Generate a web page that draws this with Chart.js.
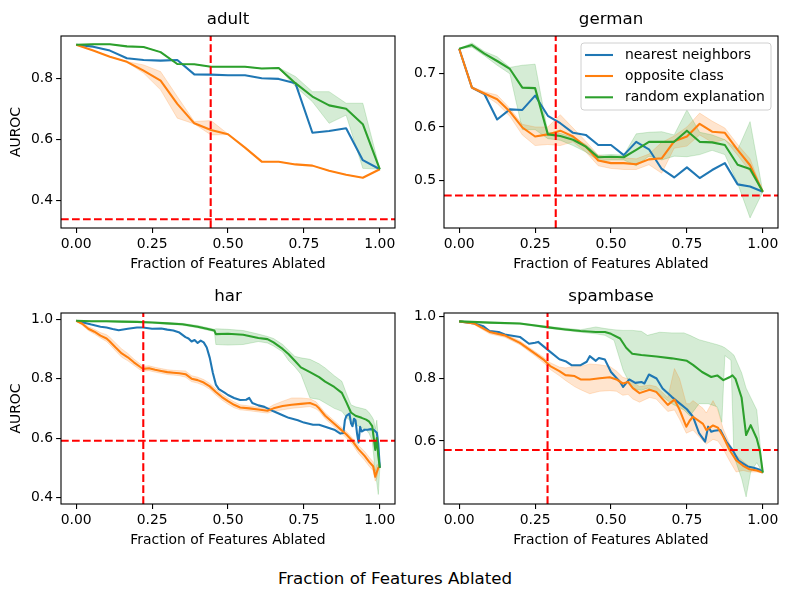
<!DOCTYPE html>
<html><head><meta charset="utf-8">
<script src="https://cdn.jsdelivr.net/npm/chart.js@4.4.1/dist/chart.umd.min.js"></script>
<style>
html,body{margin:0;padding:0;background:#fff;}
body{width:787px;height:599px;position:relative;overflow:hidden;}
canvas{position:absolute;display:block;}
#sup{position:absolute;left:0;width:790px;top:569px;text-align:center;font-family:'DejaVu Sans';font-size:16.67px;line-height:20px;color:#000;white-space:nowrap;}
</style></head>
<body>
<canvas id="c0" width="400" height="290" style="left:0px;top:0px"></canvas>
<canvas id="c1" width="400" height="290" style="left:383px;top:0px"></canvas>
<canvas id="c2" width="400" height="289" style="left:0px;top:277px"></canvas>
<canvas id="c3" width="400" height="289" style="left:383px;top:277px"></canvas>
<div id="sup">Fraction of Features Ablated</div>
<script>
// ---------- data ----------
const methods = ['nearest neighbors', 'opposite class', 'random explanation'];
const datasetNames = ['adult', 'german', 'har', 'spambase'];
const xTicks = [0, 0.25, 0.5, 0.75, 1.0];
const xLimits = [-0.05, 1.05];
const yLimits = [[0.309, 0.94], [0.41, 0.771], [0.378, 1.021], [0.397, 1.012]];
const yTickSets = [[0.4, 0.6, 0.8], [0.5, 0.6, 0.7], [0.4, 0.6, 0.8, 1.0], [0.6, 0.8, 1.0]];
const thresholdX = [0.443, 0.318, 0.221, 0.291];
const thresholdY = [0.338, 0.471, 0.591, 0.571];

// adult
const adultX = [0, 0.056, 0.111, 0.167, 0.222, 0.278, 0.333, 0.389, 0.444, 0.5, 0.556, 0.611, 0.667, 0.722, 0.778, 0.833, 0.889, 0.944, 1];
const adultNN = [0.911, 0.905, 0.892, 0.867, 0.861, 0.859, 0.861, 0.814, 0.813, 0.811, 0.811, 0.801, 0.799, 0.785, 0.622, 0.628, 0.637, 0.532, 0.502];
const adultOC = [0.911, 0.892, 0.872, 0.855, 0.826, 0.793, 0.717, 0.653, 0.631, 0.617, 0.573, 0.527, 0.527, 0.518, 0.514, 0.497, 0.484, 0.474, 0.502];
const adultOChi = [0.911, 0.892, 0.872, 0.856, 0.845, 0.823, 0.741, 0.659, 0.662, 0.618, 0.573, 0.527, 0.527, 0.518, 0.514, 0.497, 0.484, 0.474, 0.502];
const adultOClo = [0.911, 0.892, 0.872, 0.854, 0.818, 0.763, 0.670, 0.651, 0.615, 0.616, 0.573, 0.527, 0.527, 0.518, 0.514, 0.497, 0.484, 0.474, 0.502];
const adultRE = [0.911, 0.913, 0.913, 0.906, 0.904, 0.887, 0.848, 0.847, 0.839, 0.839, 0.839, 0.833, 0.835, 0.785, 0.741, 0.712, 0.701, 0.650, 0.502];
const adultREhi = [0.911, 0.913, 0.913, 0.906, 0.904, 0.887, 0.848, 0.847, 0.840, 0.840, 0.840, 0.834, 0.836, 0.807, 0.757, 0.757, 0.719, 0.719, 0.502];
const adultRElo = [0.911, 0.913, 0.913, 0.906, 0.904, 0.887, 0.847, 0.846, 0.838, 0.838, 0.838, 0.832, 0.834, 0.774, 0.724, 0.653, 0.680, 0.505, 0.502];

// german
const germanX = [0, 0.042, 0.083, 0.125, 0.167, 0.208, 0.25, 0.292, 0.333, 0.375, 0.417, 0.458, 0.5, 0.542, 0.583, 0.625, 0.667, 0.708, 0.75, 0.792, 0.833, 0.875, 0.917, 0.958, 1];
const germanNN = [0.747, 0.674, 0.662, 0.614, 0.633, 0.632, 0.659, 0.621, 0.607, 0.589, 0.585, 0.566, 0.566, 0.547, 0.572, 0.558, 0.521, 0.505, 0.524, 0.504, 0.519, 0.532, 0.492, 0.488, 0.478];
const germanOC = [0.747, 0.674, 0.663, 0.652, 0.629, 0.599, 0.582, 0.586, 0.593, 0.582, 0.563, 0.537, 0.532, 0.532, 0.530, 0.539, 0.541, 0.573, 0.582, 0.606, 0.591, 0.589, 0.557, 0.528, 0.478];
const germanOChi = [0.747, 0.676, 0.666, 0.66, 0.635, 0.605, 0.6, 0.6, 0.623, 0.598, 0.573, 0.547, 0.542, 0.542, 0.54, 0.549, 0.571, 0.583, 0.6, 0.626, 0.611, 0.598, 0.567, 0.54, 0.478];
const germanOClo = [0.747, 0.672, 0.66, 0.644, 0.62, 0.585, 0.565, 0.567, 0.565, 0.572, 0.553, 0.527, 0.522, 0.52, 0.52, 0.529, 0.513, 0.56, 0.564, 0.585, 0.571, 0.576, 0.547, 0.516, 0.478];
const germanRE = [0.747, 0.754, 0.738, 0.724, 0.709, 0.674, 0.673, 0.586, 0.583, 0.576, 0.563, 0.543, 0.544, 0.543, 0.557, 0.572, 0.572, 0.572, 0.593, 0.572, 0.571, 0.566, 0.529, 0.521, 0.478];
const germanREhi = [0.747, 0.758, 0.742, 0.732, 0.712, 0.716, 0.718, 0.59, 0.588, 0.58, 0.567, 0.547, 0.548, 0.547, 0.587, 0.59, 0.591, 0.585, 0.632, 0.59, 0.585, 0.576, 0.557, 0.61, 0.478];
const germanRElo = [0.747, 0.75, 0.734, 0.716, 0.700, 0.595, 0.595, 0.578, 0.575, 0.565, 0.553, 0.537, 0.538, 0.538, 0.527, 0.545, 0.538, 0.545, 0.544, 0.548, 0.556, 0.548, 0.494, 0.429, 0.478];

// har
const harNNx = [0, 0.02, 0.05, 0.08, 0.1, 0.12, 0.14, 0.17, 0.2, 0.22, 0.25, 0.28, 0.3, 0.32, 0.34, 0.36, 0.37, 0.38, 0.39, 0.4, 0.41, 0.42, 0.43, 0.44, 0.45, 0.46, 0.47, 0.49, 0.5, 0.52, 0.54, 0.56, 0.57, 0.58, 0.6, 0.62, 0.65, 0.68, 0.7, 0.73, 0.75, 0.78, 0.8, 0.83, 0.85, 0.87, 0.88, 0.885, 0.89, 0.9, 0.905, 0.91, 0.915, 0.92, 0.925, 0.93, 0.935, 0.94, 0.95, 0.96, 0.97, 0.98, 0.99, 0.995, 1];
const harNN = [0.995, 0.99, 0.982, 0.975, 0.972, 0.967, 0.963, 0.968, 0.972, 0.972, 0.968, 0.969, 0.965, 0.962, 0.955, 0.94, 0.935, 0.925, 0.93, 0.92, 0.928, 0.922, 0.905, 0.87, 0.82, 0.78, 0.765, 0.752, 0.745, 0.735, 0.728, 0.729, 0.735, 0.718, 0.71, 0.705, 0.69, 0.677, 0.668, 0.66, 0.652, 0.645, 0.645, 0.635, 0.628, 0.615, 0.617, 0.66, 0.675, 0.682, 0.65, 0.64, 0.665, 0.66, 0.615, 0.585, 0.638, 0.622, 0.628, 0.628, 0.63, 0.628, 0.618, 0.58, 0.5];
const harOCx = [0, 0.02, 0.04, 0.06, 0.08, 0.1, 0.11, 0.13, 0.15, 0.17, 0.19, 0.21, 0.22, 0.24, 0.26, 0.28, 0.3, 0.32, 0.34, 0.36, 0.38, 0.4, 0.42, 0.44, 0.46, 0.48, 0.5, 0.52, 0.54, 0.57, 0.6, 0.63, 0.65, 0.68, 0.71, 0.74, 0.77, 0.79, 0.8, 0.82, 0.85, 0.87, 0.89, 0.91, 0.93, 0.95, 0.965, 0.978, 0.985, 0.99, 0.995, 1];
const harOC = [0.995, 0.985, 0.968, 0.958, 0.945, 0.935, 0.926, 0.905, 0.885, 0.872, 0.855, 0.84, 0.833, 0.835, 0.83, 0.826, 0.822, 0.82, 0.818, 0.815, 0.8, 0.795, 0.787, 0.774, 0.755, 0.738, 0.724, 0.712, 0.703, 0.7, 0.696, 0.692, 0.7, 0.708, 0.712, 0.715, 0.718, 0.71, 0.7, 0.675, 0.648, 0.63, 0.612, 0.59, 0.562, 0.54, 0.52, 0.505, 0.47, 0.485, 0.5, 0.504];
const harOChi = [0.995, 0.99, 0.975, 0.966, 0.955, 0.948, 0.94, 0.92, 0.9, 0.885, 0.866, 0.85, 0.842, 0.843, 0.838, 0.834, 0.83, 0.828, 0.827, 0.826, 0.81, 0.805, 0.797, 0.784, 0.766, 0.748, 0.734, 0.722, 0.712, 0.708, 0.704, 0.7, 0.712, 0.724, 0.735, 0.735, 0.732, 0.722, 0.71, 0.685, 0.658, 0.64, 0.622, 0.6, 0.575, 0.555, 0.535, 0.52, 0.49, 0.51, 0.51, 0.504];
const harOClo = [0.995, 0.98, 0.962, 0.95, 0.937, 0.925, 0.915, 0.893, 0.872, 0.86, 0.845, 0.83, 0.825, 0.827, 0.822, 0.818, 0.814, 0.812, 0.81, 0.805, 0.79, 0.785, 0.777, 0.764, 0.745, 0.728, 0.714, 0.702, 0.695, 0.692, 0.688, 0.684, 0.69, 0.695, 0.7, 0.703, 0.706, 0.698, 0.69, 0.665, 0.638, 0.62, 0.6, 0.578, 0.548, 0.525, 0.505, 0.49, 0.455, 0.465, 0.49, 0.504];
const harREx = [0, 0.05, 0.1, 0.15, 0.2, 0.25, 0.3, 0.35, 0.4, 0.43, 0.455, 0.46, 0.5, 0.55, 0.6, 0.63, 0.65, 0.68, 0.7, 0.72, 0.74, 0.77, 0.8, 0.82, 0.85, 0.875, 0.89, 0.905, 0.92, 0.94, 0.955, 0.965, 0.975, 0.98, 0.985, 0.99, 0.995, 1];
const harRE = [0.995, 0.993, 0.993, 0.992, 0.991, 0.989, 0.986, 0.983, 0.975, 0.968, 0.962, 0.95, 0.951, 0.948, 0.937, 0.933, 0.922, 0.9, 0.882, 0.86, 0.838, 0.822, 0.805, 0.79, 0.772, 0.752, 0.72, 0.686, 0.675, 0.668, 0.662, 0.655, 0.64, 0.6, 0.56, 0.6, 0.54, 0.5];
const harREhi = [0.995, 0.995, 0.995, 0.994, 0.993, 0.991, 0.989, 0.986, 0.979, 0.972, 0.966, 0.968, 0.966, 0.962, 0.95, 0.942, 0.935, 0.915, 0.895, 0.875, 0.87, 0.865, 0.85, 0.836, 0.81, 0.791, 0.75, 0.712, 0.705, 0.7, 0.696, 0.685, 0.67, 0.66, 0.63, 0.66, 0.6, 0.5];
const harRElo = [0.995, 0.991, 0.991, 0.99, 0.989, 0.987, 0.983, 0.98, 0.971, 0.964, 0.958, 0.915, 0.913, 0.915, 0.925, 0.92, 0.91, 0.89, 0.86, 0.84, 0.815, 0.735, 0.73, 0.718, 0.7, 0.69, 0.67, 0.656, 0.645, 0.635, 0.628, 0.615, 0.59, 0.54, 0.48, 0.45, 0.41, 0.5];

// spambase
const spamNNx = [0, 0.05, 0.08, 0.1, 0.13, 0.15, 0.2, 0.23, 0.25, 0.26, 0.28, 0.3, 0.33, 0.35, 0.37, 0.4, 0.42, 0.43, 0.45, 0.46, 0.48, 0.5, 0.53, 0.54, 0.56, 0.58, 0.6, 0.61, 0.625, 0.65, 0.67, 0.7, 0.72, 0.75, 0.77, 0.79, 0.81, 0.82, 0.83, 0.84, 0.86, 0.88, 0.9, 0.92, 0.95, 0.97, 0.99, 1];
const spamNN = [0.985, 0.978, 0.969, 0.954, 0.951, 0.943, 0.935, 0.913, 0.916, 0.919, 0.903, 0.887, 0.863, 0.857, 0.844, 0.844, 0.855, 0.873, 0.858, 0.867, 0.862, 0.822, 0.79, 0.774, 0.798, 0.787, 0.79, 0.785, 0.814, 0.801, 0.769, 0.742, 0.726, 0.702, 0.678, 0.625, 0.598, 0.646, 0.63, 0.633, 0.635, 0.598, 0.571, 0.537, 0.518, 0.514, 0.507, 0.498];
const spamOCx = [0, 0.05, 0.1, 0.15, 0.2, 0.25, 0.28, 0.3, 0.33, 0.35, 0.38, 0.4, 0.43, 0.463, 0.496, 0.518, 0.539, 0.556, 0.572, 0.594, 0.627, 0.649, 0.687, 0.709, 0.726, 0.748, 0.759, 0.77, 0.803, 0.814, 0.836, 0.852, 0.869, 0.891, 0.912, 0.935, 0.956, 0.98, 1];
const spamOC = [0.985, 0.978, 0.951, 0.94, 0.916, 0.881, 0.86, 0.841, 0.825, 0.812, 0.809, 0.798, 0.798, 0.802, 0.805, 0.798, 0.785, 0.79, 0.77, 0.754, 0.765, 0.758, 0.716, 0.733, 0.7, 0.646, 0.665, 0.678, 0.655, 0.635, 0.65, 0.643, 0.615, 0.57, 0.538, 0.52, 0.509, 0.505, 0.498];
const spamOChi = [0.985, 0.982, 0.957, 0.946, 0.922, 0.888, 0.868, 0.852, 0.838, 0.835, 0.84, 0.84, 0.848, 0.845, 0.84, 0.825, 0.805, 0.8, 0.79, 0.775, 0.78, 0.775, 0.74, 0.833, 0.8, 0.72, 0.72, 0.73, 0.705, 0.69, 0.73, 0.7, 0.64, 0.59, 0.555, 0.535, 0.518, 0.51, 0.498];
const spamOClo = [0.985, 0.974, 0.945, 0.934, 0.91, 0.874, 0.85, 0.83, 0.81, 0.795, 0.775, 0.765, 0.752, 0.76, 0.762, 0.76, 0.747, 0.75, 0.735, 0.725, 0.74, 0.735, 0.695, 0.7, 0.67, 0.625, 0.63, 0.635, 0.6, 0.59, 0.605, 0.6, 0.575, 0.535, 0.5, 0.505, 0.5, 0.5, 0.498];
const spamREx = [0, 0.1, 0.2, 0.25, 0.3, 0.35, 0.4, 0.45, 0.48, 0.5, 0.53, 0.55, 0.57, 0.6, 0.65, 0.7, 0.75, 0.77, 0.8, 0.83, 0.85, 0.87, 0.89, 0.9, 0.91, 0.93, 0.945, 0.96, 0.98, 0.99, 1];
const spamRE = [0.985, 0.981, 0.978, 0.972, 0.965, 0.959, 0.954, 0.951, 0.951, 0.945, 0.93, 0.9, 0.881, 0.877, 0.872, 0.866, 0.858, 0.845, 0.822, 0.806, 0.811, 0.796, 0.805, 0.811, 0.8, 0.74, 0.619, 0.651, 0.608, 0.57, 0.498];
const spamREbandX = [0, 0.1, 0.2, 0.3, 0.4, 0.45, 0.48, 0.51, 0.54, 0.57, 0.6, 0.62, 0.66, 0.7, 0.74, 0.76, 0.79, 0.82, 0.85, 0.865, 0.875, 0.895, 0.905, 0.93, 0.945, 0.96, 0.98, 1];
const spamREhi = [0.985, 0.983, 0.98, 0.968, 0.958, 0.967, 0.962, 0.958, 0.956, 0.956, 0.953, 0.94, 0.95, 0.948, 0.948, 0.94, 0.926, 0.918, 0.91, 0.905, 0.9, 0.885, 0.876, 0.82, 0.77, 0.74, 0.7, 0.498];
const spamRElo = [0.985, 0.979, 0.976, 0.962, 0.95, 0.945, 0.94, 0.924, 0.828, 0.769, 0.763, 0.77, 0.75, 0.72, 0.7, 0.68, 0.72, 0.72, 0.71, 0.66, 0.875, 0.86, 0.55, 0.48, 0.42, 0.5, 0.53, 0.498];

// ---------- styling ----------
const FONT = "'DejaVu Sans'";
const lineColors = ['#1f77b4', '#ff7f0e', '#2ca02c'];
const bandColors = ['rgba(31,119,180,0.2)', 'rgba(255,127,14,0.2)', 'rgba(44,160,44,0.2)'];

const panels = [
  {id: 'c0', ylabel: true, legend: false, series: [
    {x: adultX, y: adultNN}, {x: adultX, y: adultOC, lo: adultOClo, hi: adultOChi}, {x: adultX, y: adultRE, lo: adultRElo, hi: adultREhi}]},
  {id: 'c1', ylabel: false, legend: true, series: [
    {x: germanX, y: germanNN}, {x: germanX, y: germanOC, lo: germanOClo, hi: germanOChi}, {x: germanX, y: germanRE, lo: germanRElo, hi: germanREhi}]},
  {id: 'c2', ylabel: true, legend: false, series: [
    {x: harNNx, y: harNN}, {x: harOCx, y: harOC, lo: harOClo, hi: harOChi}, {x: harREx, y: harRE, lo: harRElo, hi: harREhi}]},
  {id: 'c3', ylabel: false, legend: false, series: [
    {x: spamNNx, y: spamNN}, {x: spamOCx, y: spamOC, lo: spamOClo, hi: spamOChi}, {x: spamREx, y: spamRE, bx: spamREbandX, lo: spamRElo, hi: spamREhi}]}
];

const framePlugin = {
  id: 'frame',
  afterDraw(chart, args, opts) {
    const {ctx, chartArea: a} = chart;
    ctx.save();
    ctx.strokeStyle = '#000';
    ctx.lineWidth = 1.1;
    ctx.strokeRect(a.left, a.top, a.right - a.left, a.bottom - a.top);
    ctx.font = '16.67px ' + FONT;
    ctx.fillStyle = '#000';
    ctx.textAlign = 'center';
    ctx.textBaseline = 'alphabetic';
    ctx.fillText(opts.title, (a.left + a.right) / 2, a.top - 12);
    if (opts.legend) {
      const bx = a.right - 197, by = a.top + 7, bw = 190, bh = 67, r = 3;
      ctx.beginPath();
      ctx.moveTo(bx + r, by);
      ctx.arcTo(bx + bw, by, bx + bw, by + bh, r);
      ctx.arcTo(bx + bw, by + bh, bx, by + bh, r);
      ctx.arcTo(bx, by + bh, bx, by, r);
      ctx.arcTo(bx, by, bx + bw, by, r);
      ctx.closePath();
      ctx.fillStyle = 'rgba(255,255,255,0.8)';
      ctx.fill();
      ctx.strokeStyle = '#d0d0d0';
      ctx.lineWidth = 1;
      ctx.stroke();
      const rows = [12, 33, 54.3];
      ctx.font = '13.9px ' + FONT;
      ctx.textAlign = 'left';
      ctx.textBaseline = 'middle';
      methods.forEach((m, k) => {
        const yy = by + rows[k];
        ctx.strokeStyle = lineColors[k];
        ctx.lineWidth = 2.08;
        ctx.beginPath();
        ctx.moveTo(bx + 4, yy);
        ctx.lineTo(bx + 32, yy);
        ctx.stroke();
        ctx.fillStyle = '#000';
        ctx.fillText(m, bx + 44, yy);
      });
    }
    ctx.restore();
  }
};

panels.forEach((p, idx) => {
  const [yMin, yMax] = yLimits[idx];
  const ds = [];
  ds.push({data: [{x: thresholdX[idx], y: yMin}, {x: thresholdX[idx], y: yMax}],
    borderColor: '#ff0000', borderWidth: 2.08, borderDash: [7.7, 3.3], order: 0, fill: false});
  ds.push({data: [{x: xLimits[0], y: thresholdY[idx]}, {x: xLimits[1], y: thresholdY[idx]}],
    borderColor: '#ff0000', borderWidth: 2.08, borderDash: [7.7, 3.3], order: 0, fill: false});
  p.series.forEach((s, k) => {
    ds.push({label: methods[k], data: s.x.map((x, i) => ({x: x, y: s.y[i]})),
      borderColor: lineColors[k], borderWidth: 2.08, order: 3 - k, fill: false});
    if (s.lo) {
      const bxs = s.bx || s.x;
      ds.push({data: bxs.map((x, i) => ({x: x, y: s.lo[i]})),
        borderColor: bandColors[k], borderWidth: 1, order: 6 - k, fill: false});
      ds.push({data: bxs.map((x, i) => ({x: x, y: s.hi[i]})),
        borderColor: bandColors[k], borderWidth: 1, order: 6 - k, fill: '-1', backgroundColor: bandColors[k]});
    }
  });

  const tickFont = {family: FONT, size: 13.9};
  new Chart(document.getElementById(p.id), {
    type: 'line',
    data: {datasets: ds},
    plugins: [framePlugin],
    options: {
      responsive: false, animation: false, devicePixelRatio: 1,
      layout: {padding: {left: 0, top: 36, right: 5, bottom: 0}},
      elements: {point: {radius: 0, hoverRadius: 0}, line: {tension: 0, borderJoinStyle: 'round', borderCapStyle: 'butt'}},
      plugins: {
        legend: {display: false}, tooltip: {enabled: false},
        filler: {drawTime: 'beforeDatasetsDraw'},
        frame: {title: datasetNames[idx], legend: p.legend}
      },
      scales: {
        x: {
          type: 'linear', min: xLimits[0], max: xLimits[1],
          afterBuildTicks: s => { s.ticks = xTicks.map(v => ({value: v})); },
          afterFit: s => { s.height = 62; s.paddingLeft = 0; s.paddingRight = 0; },
          ticks: {autoSkip: false, maxRotation: 0, minRotation: 0, padding: 3.5, color: '#000', font: tickFont,
            callback: v => Number(v).toFixed(2)},
          grid: {drawOnChartArea: false, drawTicks: true, tickLength: 4.9, tickWidth: 1.1, tickColor: '#000', color: '#000', lineWidth: 1.1},
          border: {display: false},
          title: {display: true, text: 'Fraction of Features Ablated', color: '#000', font: tickFont, padding: {top: 0, bottom: 17.4}}
        },
        y: {
          type: 'linear', min: yMin, max: yMax,
          afterBuildTicks: s => { s.ticks = yTickSets[idx].map(v => ({value: v})); },
          afterFit: s => { s.width = 61; s.paddingTop = 0; s.paddingBottom = 0; },
          ticks: {autoSkip: false, padding: 3, color: '#000', font: tickFont, callback: v => Number(v).toFixed(1)},
          grid: {drawOnChartArea: false, drawTicks: true, tickLength: 4.9, tickWidth: 1.1, tickColor: '#000', color: '#000', lineWidth: 1.1},
          border: {display: false},
          title: {display: p.ylabel, text: 'AUROC', color: '#000', font: tickFont, padding: {top: 8.4, bottom: 0}}
        }
      }
    }
  });
});
</script>
</body></html>
